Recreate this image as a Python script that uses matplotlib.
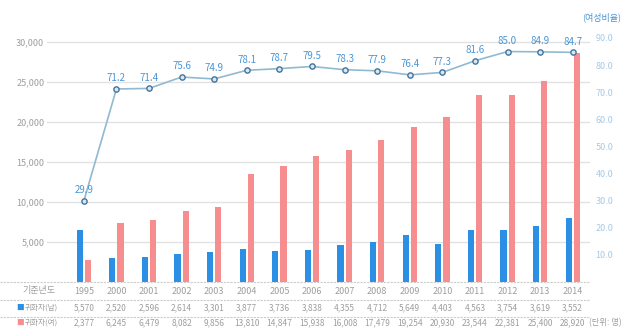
import numpy as np
import matplotlib
matplotlib.use('Agg')
import matplotlib.pyplot as plt
import matplotlib.transforms as mtrans
from matplotlib.lines import Line2D

plt.rcParams['font.family'] = ['Noto Sans CJK KR', 'DejaVu Sans']

# data
years = ['1995', '2000', '2001', '2002', '2003', '2004', '2005', '2006',
         '2007', '2008', '2009', '2010', '2011', '2012', '2013', '2014']
male_bar = [6500, 2960, 3170, 3460, 3700, 4080, 3900, 4000,
            4620, 5040, 5870, 4710, 6500, 6500, 7040, 7960]
female_bar = [2750, 7330, 7750, 8900, 9400, 13500, 14540, 15790,
              16580, 17830, 19420, 20670, 23370, 23370, 25160, 28660]
female_ratio = [29.9, 71.2, 71.4, 75.6, 74.9, 78.1, 78.7, 79.5,
                78.3, 77.9, 76.4, 77.3, 81.6, 85.0, 84.9, 84.7]
male_table = ['5,570', '2,520', '2,596', '2,614', '3,301', '3,877', '3,736', '3,838',
              '4,355', '4,712', '5,649', '4,403', '4,563', '3,754', '3,619', '3,552']
female_table = ['2,377', '6,245', '6,479', '8,082', '9,856', '13,810', '14,847', '15,938',
                '16,008', '17,479', '19,254', '20,930', '23,544', '22,381', '25,400', '28,920']
row_labels = ['기준년도', '귀화자(남)', '귀화자(여)']

blue = '#2b8fe3'
pink = '#f68e90'
grey = '#9e9e9e'

fig = plt.figure(figsize=(6.21, 3.31), dpi=100)
ax = fig.add_axes([47/621, 49/331, 543/621, 252/331])
ax2 = ax.twinx()

x = np.arange(len(years))
w = 0.19
ax.bar(x - 0.125, male_bar, w, color=blue, zorder=2)
ax.bar(x + 0.125, female_bar, w, color=pink, zorder=2)

ax.set_xlim(-1.13, 15.53)
ax.set_ylim(0, 31540)
ax.set_yticks([5000, 10000, 15000, 20000, 25000, 30000])
ax.set_yticklabels(['5,000', '10,000', '15,000', '20,000', '25,000', '30,000'])
ax.yaxis.grid(True, color='#e2e2e2', linewidth=1.0, zorder=0)
ax.set_axisbelow(True)
ax.set_xticks([])
ax.tick_params(axis='y', length=0, pad=2, labelsize=6.5, labelcolor=grey)

ax2.set_ylim(0, 92.95)
ax2.set_yticks([10, 20, 30, 40, 50, 60, 70, 80, 90])
ax2.set_yticklabels(['%.1f' % v for v in [10, 20, 30, 40, 50, 60, 70, 80, 90]])
ax2.tick_params(axis='y', length=0, pad=4, labelsize=6.5, labelcolor='#a6cae6')
ax2.plot(x, female_ratio, color='#8fbad2', linewidth=1.2, marker='o', markersize=3.8,
         markerfacecolor='#d8e8f2', markeredgecolor='#44739a', markeredgewidth=1.0, zorder=3)
for xi, v in zip(x, female_ratio):
    ax2.annotate('%.1f' % v, (xi, v), xytext=(0, 4), textcoords='offset points',
                 ha='center', va='bottom', fontsize=7, color='#4a96d6')

for a in (ax, ax2):
    for s in a.spines.values():
        s.set_visible(False)

fig.text(0.938, 0.948, '(여성비율)', fontsize=6.5, color='#4a96d6', ha='left', va='center')

# table under the chart
tr = mtrans.blended_transform_factory(ax.transData, fig.transFigure)
row_y = [1 - 291/331, 1 - 308/331, 1 - 323/331]
for xi, yr, m, f in zip(x, years, male_table, female_table):
    fig.text(xi, row_y[0], yr, transform=tr, ha='center', va='center', fontsize=6.5, color=grey)
    fig.text(xi, row_y[1], m, transform=tr, ha='center', va='center', fontsize=6, color=grey)
    fig.text(xi, row_y[2], f, transform=tr, ha='center', va='center', fontsize=6, color=grey)

fig.text(22/621, row_y[0], row_labels[0], ha='left', va='center', fontsize=6.5, color=grey)
fig.text(16/621, row_y[1], '■', ha='left', va='center', fontsize=5.5, color=blue)
fig.text(25/621, row_y[1], row_labels[1], ha='left', va='center', fontsize=5.5, color=grey)
fig.text(16/621, row_y[2], '■', ha='left', va='center', fontsize=5.5, color=pink)
fig.text(25/621, row_y[2], row_labels[2], ha='left', va='center', fontsize=5.5, color=grey)
fig.text(589/621, row_y[2], '(단위: 명)', ha='left', va='center', fontsize=6, color=grey)

for yp in [282, 299.5, 316.5]:
    fig.add_artist(Line2D([0, 590/621], [1 - yp/331, 1 - yp/331], color='#cccccc',
                          linewidth=0.8, linestyle=(0, (2, 1))))

fig.savefig('out.png', dpi=100)
